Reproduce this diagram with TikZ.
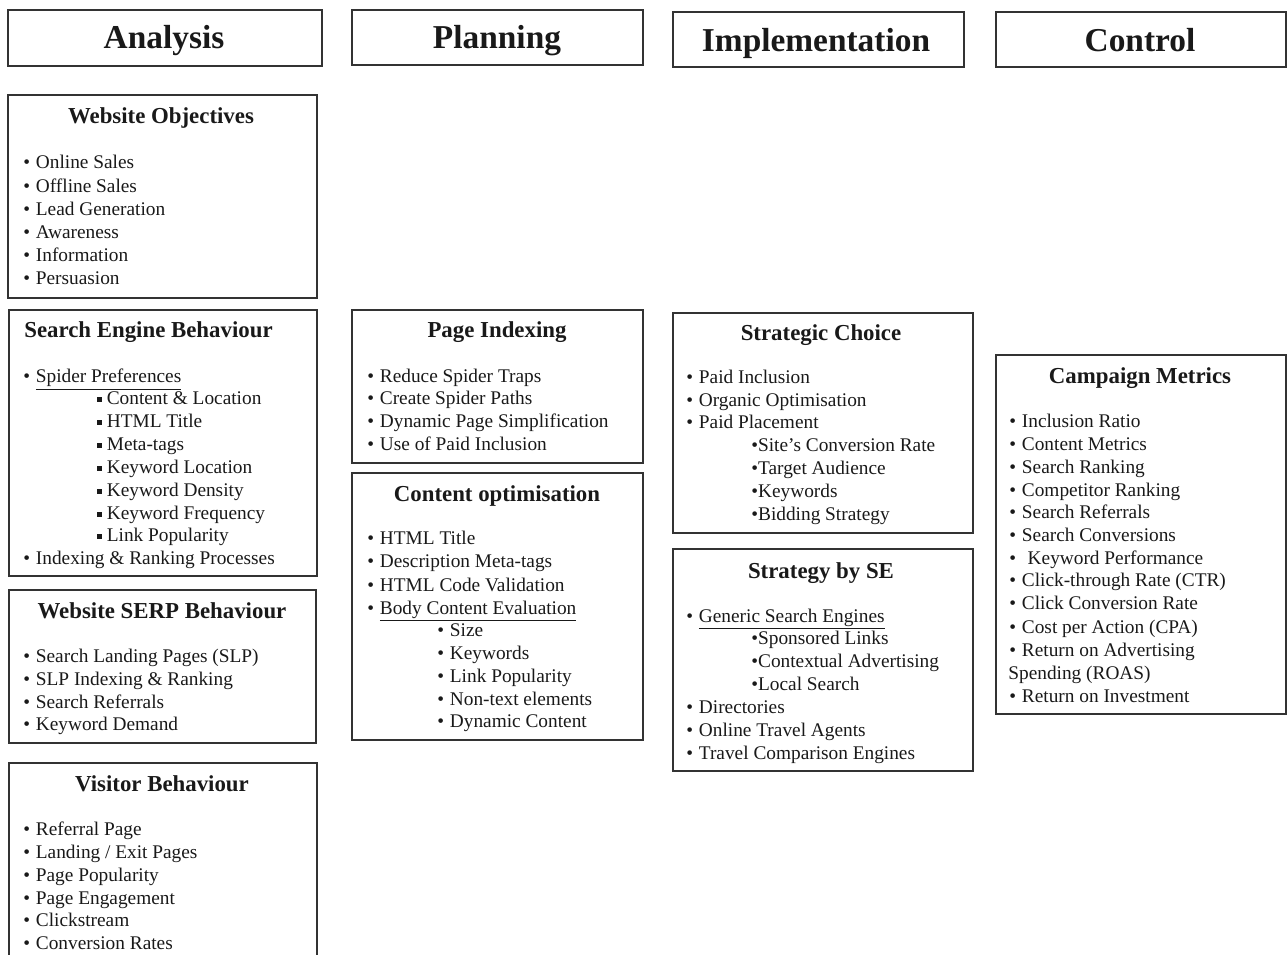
\documentclass[tikz,border=0pt]{standalone}
\usepackage{fontspec}
\setmainfont{Liberation Serif}
\newcounter{lc}
\newcommand\tx[3]{\stepcounter{lc}\node[txt] (t\arabic{lc}) at (#1,#2) {#3};}
\newcommand\bx[5]{\node[box, anchor=north west, minimum width={(#4-#2)*0.02cm}, minimum height={(#5-#3)*0.02cm}] (#1) at (#2,#3) {};}
\newcommand\sqb{\raisebox{0.18em}{\rule{0.24em}{0.24em}}}
\newcommand\bul{•\hspace{0.3em}}
\begin{document}
\begin{tikzpicture}[x=0.02cm,y=-0.02cm,
  txt/.style={anchor=base west, inner sep=0pt, yshift=-0.04cm, text=black!90, font=\fontsize{11}{13}\selectfont},
  ttl/.style={anchor=base, inner sep=0pt, text=black!90, font=\fontsize{13}{15}\selectfont\bfseries},
  hdr/.style={anchor=base, inner sep=0pt, text=black!90, font=\fontsize{19}{22}\selectfont\bfseries},
  box/.style={draw=black!80, line width=1pt, inner sep=0pt, fill=none}]
\useasboundingbox (0,0) rectangle (1287,955);
\clip (0,0) rectangle (1287,955);
% header boxes
\bx{hA}{7}{9}{321}{65}
\bx{hP}{351}{9}{642}{64}
\bx{hI}{672}{11}{963}{66}
\bx{hC}{995}{11}{1285}{66}
\node[hdr] (lA) at (164,49) {Analysis};
\node[hdr] (lP) at (497,49) {Planning};
\node[hdr] (lI) at (816,52) {Implementation};
\node[hdr] (lC) at (1140,52) {Control};
% content boxes
\bx{wo}{7}{94}{316}{297}
\bx{seb}{8}{309}{316}{575}
\bx{wsb}{8}{589}{315}{742}
\bx{vb}{8}{762}{316}{990}
\bx{pi}{351}{309}{642}{462}
\bx{co}{351}{472}{642}{739}
\bx{sc}{672}{312}{972}{532}
\bx{sbs}{672}{548}{972}{770}
\bx{cm}{995}{354}{1285}{713}
% Website Objectives
\node[ttl] (two) at (161,124) {Website Objectives};
\tx{23}{167}{\bul Online Sales}
\tx{23}{191}{\bul Offline Sales}
\tx{23}{214}{\bul Lead Generation}
\tx{23}{237}{\bul Awareness}
\tx{23}{260}{\bul Information}
\tx{23}{283}{\bul Persuasion}
% Search Engine Behaviour
\node[ttl, anchor=base west] (tseb) at (24,338) {Search Engine Behaviour};
\tx{23}{381}{\bul \underline{Spider Preferences}}
\tx{97}{403}{\sqb\hspace{0.25em}Content \& Location}
\tx{97}{426}{\sqb\hspace{0.25em}HTML Title}
\tx{97}{449}{\sqb\hspace{0.25em}Meta-tags}
\tx{97}{472}{\sqb\hspace{0.25em}Keyword Location}
\tx{97}{495}{\sqb\hspace{0.25em}Keyword Density}
\tx{97}{518}{\sqb\hspace{0.25em}Keyword Frequency}
\tx{97}{540}{\sqb\hspace{0.25em}Link Popularity}
\tx{23}{563}{\bul Indexing \& Ranking Processes}
% Website SERP Behaviour
\node[ttl] (twsb) at (162,618) {Website SERP Behaviour};
\tx{23}{660}{\bul Search Landing Pages (SLP)}
\tx{23}{683}{\bul SLP Indexing \& Ranking}
\tx{23}{706}{\bul Search Referrals}
\tx{23}{728}{\bul Keyword Demand}
% Visitor Behaviour
\node[ttl] (tvb) at (162,791) {Visitor Behaviour};
\tx{23}{833}{\bul Referral Page}
\tx{23}{856}{\bul Landing / Exit Pages}
\tx{23}{879}{\bul Page Popularity}
\tx{23}{902}{\bul Page Engagement}
\tx{23}{924}{\bul Clickstream}
\tx{23}{947}{\bul Conversion Rates}
% Page Indexing
\node[ttl] (tpi) at (497,338) {Page Indexing};
\tx{367}{381}{\bul Reduce Spider Traps}
\tx{367}{403}{\bul Create Spider Paths}
\tx{367}{426}{\bul Dynamic Page Simplification}
\tx{367}{449}{\bul Use of Paid Inclusion}
% Content optimisation
\node[ttl] (tco) at (497,501) {Content optimisation};
\tx{367}{543}{\bul HTML Title}
\tx{367}{566}{\bul Description Meta-tags}
\tx{367}{589}{\bul HTML Code Validation}
\tx{367}{612}{\bul \underline{Body Content Evaluation}}
\tx{437}{634}{\bul Size}
\tx{437}{657}{\bul Keywords}
\tx{437}{680}{\bul Link Popularity}
\tx{437}{703}{\bul Non-text elements}
\tx{437}{725}{\bul Dynamic Content}
% Strategic Choice
\node[ttl] (tsc) at (821,341) {Strategic Choice};
\tx{686}{382}{\bul Paid Inclusion}
\tx{686}{405}{\bul Organic Optimisation}
\tx{686}{427}{\bul Paid Placement}
\tx{751}{450}{•Site’s Conversion Rate}
\tx{751}{473}{•Target Audience}
\tx{751}{496}{•Keywords}
\tx{751}{519}{•Bidding Strategy}
% Strategy by SE
\node[ttl] (tsbs) at (821,578) {Strategy by SE};
\tx{686}{620}{\bul \underline{Generic Search Engines}}
\tx{751}{642}{•Sponsored Links}
\tx{751}{665}{•Contextual Advertising}
\tx{751}{688}{•Local Search}
\tx{686}{711}{\bul Directories}
\tx{686}{734}{\bul Online Travel Agents}
\tx{686}{757}{\bul Travel Comparison Engines}
% Campaign Metrics
\node[ttl] (tcm) at (1140,384) {Campaign Metrics};
\tx{1009}{426}{\bul Inclusion Ratio}
\tx{1009}{449}{\bul Content Metrics}
\tx{1009}{472}{\bul Search Ranking}
\tx{1009}{495}{\bul Competitor Ranking}
\tx{1009}{517}{\bul Search Referrals}
\tx{1009}{540}{\bul Search Conversions}
\tx{1009}{563}{\bul\hspace{0.3em}Keyword Performance}
\tx{1009}{585}{\bul Click-through Rate (CTR)}
\tx{1009}{608}{\bul Click Conversion Rate}
\tx{1009}{631}{\bul Cost per Action (CPA)}
\tx{1009}{654}{\bul Return on Advertising}
\tx{1008}{677}{Spending (ROAS)}
\tx{1009}{700}{\bul Return on Investment}
\end{tikzpicture}
\end{document}
